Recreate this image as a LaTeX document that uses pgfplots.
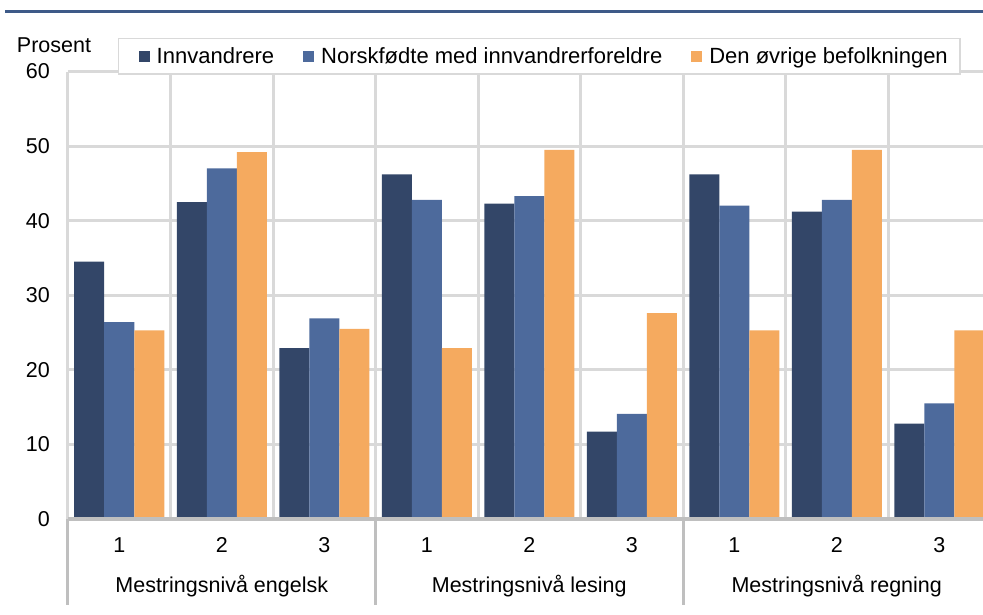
\documentclass[border=0pt]{standalone}
\usepackage{pgfplots}
\pgfplotsset{compat=1.18}
\usepackage{fontspec}
\setmainfont{Liberation Sans}
\definecolor{cA}{HTML}{334668}
\definecolor{cB}{HTML}{4D6A9C}
\definecolor{cC}{HTML}{F5AA5F}
\definecolor{gridc}{HTML}{D9D9D9}
\definecolor{axc}{HTML}{BFBFBF}
\definecolor{titlec}{HTML}{3E5A88}
\newcommand{\fs}{\fontsize{21.5}{25}\selectfont}
\newcommand{\fl}{\fontsize{22}{26}\selectfont}
\begin{document}
\begin{tikzpicture}[x=1pt,y=1pt]
\path[use as bounding box] (0,0) rectangle (983,615);
\draw[titlec, line width=3pt] (5,603.3) -- (983,603.3);
\node[anchor=base, font=\fs, inner sep=0pt] at (54,562) {Prosent};
\begin{axis}[
  at={(68pt,96pt)}, anchor=south west,
  scale only axis, width=922.5pt, height=447.5pt,
  xmin=-0.5, xmax=8.5, ymin=0, ymax=60,
  ybar=0pt, bar width=30pt,
  clip=false,
  axis line style={draw=none},
  major tick length=0pt, minor tick length=0pt,
  tick style={draw=none},
  xtick={0,...,8}, xticklabels={1,2,3,1,2,3,1,2,3},
  minor xtick={-0.5,0.5,...,8.5},
  ytick={0,10,...,60},
  xminorgrids=true, ymajorgrids=true, xmajorgrids=false,
  grid style={gridc, line width=3pt},
  minor grid style={gridc, line width=3pt},
  /pgf/number format/assume math mode=true,
  ticklabel style={font=\fs},
  yticklabel style={anchor=east, inner sep=0pt, xshift=-18pt},
  xticklabel style={anchor=base, inner sep=0pt, yshift=-33.5pt},
  legend columns=3,
  legend style={at={(0.0542,1.0749)}, anchor=north west, draw=gridc, line width=1.5pt, fill=white,
    font=\fl, inner xsep=10pt, inner ysep=7pt,
    /tikz/every odd column/.append style={column sep=5pt},
    /tikz/every even column/.append style={column sep=17pt}},
  legend cell align=left,
  legend image code/.code={\path (0pt,0pt); \fill[#1] (10pt,-5.5pt) rectangle (21pt,5.5pt);},
]
\addplot[fill=cA, draw=none] coordinates {(0,34.5) (1,42.5) (2,22.9) (3,46.2) (4,42.3) (5,11.7) (6,46.2) (7,41.2) (8,12.8)};
\addplot[fill=cB, draw=none] coordinates {(0,26.4) (1,47.0) (2,26.9) (3,42.8) (4,43.3) (5,14.1) (6,42.0) (7,42.8) (8,15.5)};
\addplot[fill=cC, draw=none] coordinates {(0,25.3) (1,49.2) (2,25.5) (3,22.9) (4,49.5) (5,27.6) (6,25.3) (7,49.5) (8,25.3)};
\legend{Innvandrere, Norskfødte med innvandrerforeldre, Den øvrige befolkningen}
\draw[axc, line width=3.5pt] (axis cs:-0.5,0) -- (axis cs:8.5,0);
\draw[axc, line width=3pt] (axis cs:-0.5,0) -- ++(0pt,-86pt);
\draw[axc, line width=3pt] (axis cs:2.5,0) -- ++(0pt,-86pt);
\draw[axc, line width=3pt] (axis cs:5.5,0) -- ++(0pt,-86pt);
\node[anchor=base, font=\fs, inner sep=0pt] at ([yshift=-74pt]axis cs:1,0) {Mestringsnivå engelsk};
\node[anchor=base, font=\fs, inner sep=0pt] at ([yshift=-74pt]axis cs:4,0) {Mestringsnivå lesing};
\node[anchor=base, font=\fs, inner sep=0pt] at ([yshift=-74pt]axis cs:7,0) {Mestringsnivå regning};
\end{axis}
\end{tikzpicture}
\end{document}
